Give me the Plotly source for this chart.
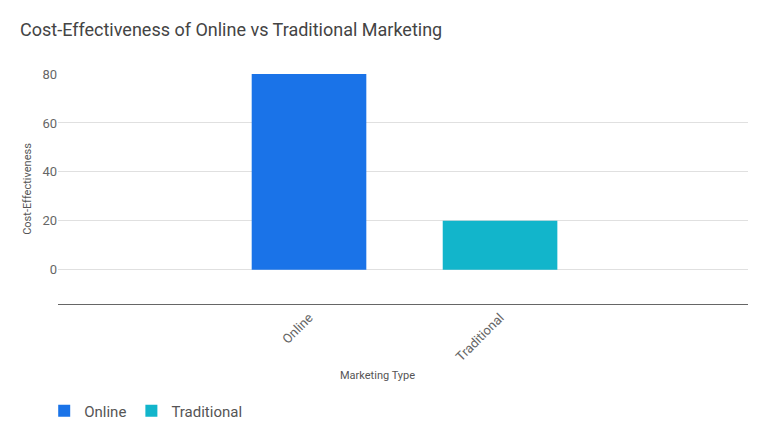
import plotly.graph_objects as go

categories = ["Online", "Traditional"]
values = [80, 20]
colors = ["#1a73e8", "#12b5cb"]
y_ticks = [0, 20, 40, 60, 80]

fig = go.Figure()
for cat, val, col in zip(categories, values, colors):
    fig.add_trace(go.Bar(x=[cat], y=[val], name=cat, marker=dict(color=col, line=dict(width=0)),
                         width=0.6))

font_family = "Roboto, 'Open Sans', sans-serif"
fig.update_layout(
    width=768, height=440,
    paper_bgcolor="white", plot_bgcolor="white",
    margin=dict(l=58, r=20, t=74, b=136, autoexpand=False),
    font=dict(family=font_family, color="#666666", size=12),
    title=dict(text="Cost-Effectiveness of Online vs Traditional Marketing",
               x=20/768, xanchor="left", y=1-30/440, yanchor="middle",
               font=dict(size=18, color="#444444", family=font_family)),
    barmode="overlay",
    showlegend=True,
    legend=dict(orientation="h", x=-0.02, xanchor="left",
                y=-(411-304)/230, yanchor="middle", font=dict(size=15, color="#555555"),
                itemwidth=30, tracegroupgap=0),
    xaxis=dict(type="category", range=[-1.314, 2.298], tickangle=-45,
               showgrid=False, showline=True, linecolor="#666666", linewidth=1,
               ticks="", tickfont=dict(size=13, color="#666666"), zeroline=False),
    yaxis=dict(range=[-14, 80], tickvals=y_ticks, showgrid=True, gridcolor="#e0e0e0",
               zeroline=False, showline=False, ticks="", ticklen=0,
               tickfont=dict(size=13, color="#666666"),
               title=dict(text="Cost-Effectiveness", font=dict(size=11, color="#555555"), standoff=8)),
    annotations=[dict(text="Marketing Type", xref="paper", yref="paper",
                      x=(377-58)/690, y=-(375-304)/230, xanchor="center", yanchor="middle",
                      showarrow=False, font=dict(size=11, color="#555555"))],
)

fig.write_html("out.html", config={"displayModeBar": False},
               post_script="document.body.style.margin='0';")
